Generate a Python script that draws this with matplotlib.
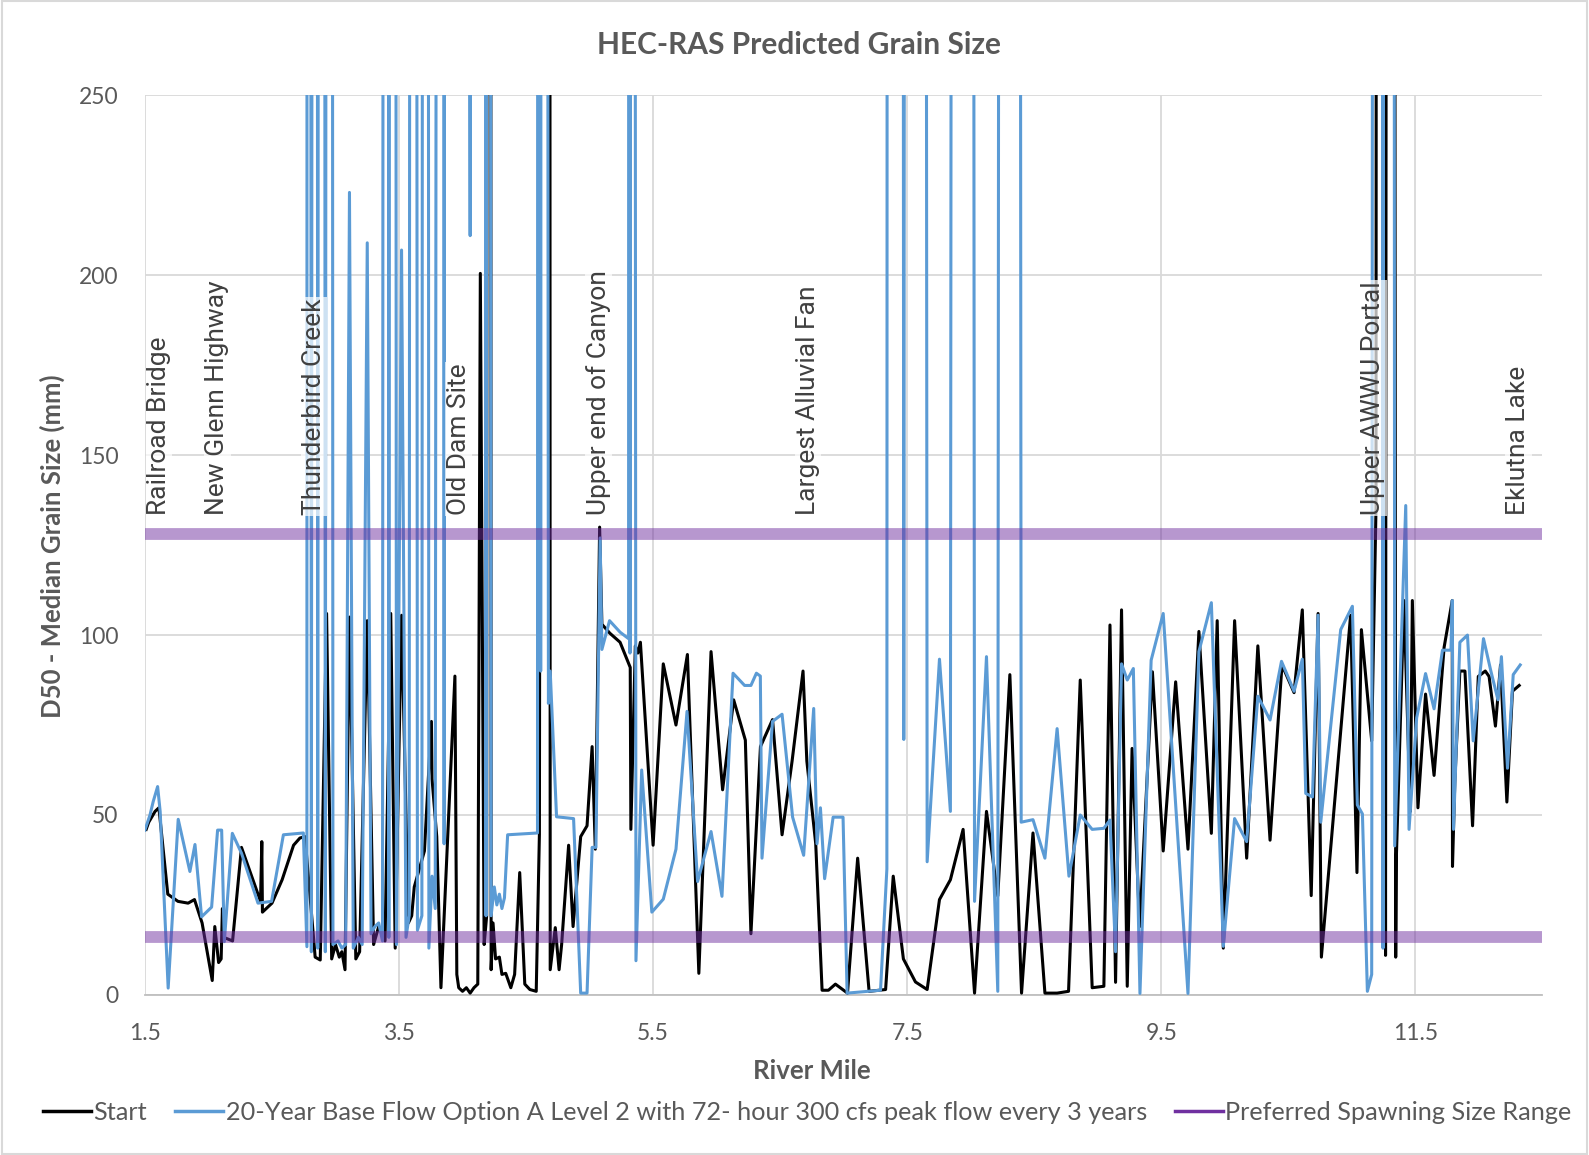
import matplotlib
matplotlib.use('Agg')
import matplotlib.pyplot as plt
from matplotlib.lines import Line2D
from matplotlib.patches import Rectangle

# River mile / D50 (mm); values above 250 run off the top of the axis
start_x = [1.51, 1.53, 1.58, 1.61, 1.68, 1.76, 1.84, 1.89, 1.95, 2.03, 2.05, 2.08, 2.10, 2.11, 2.12,
           2.19, 2.26, 2.41, 2.42, 2.425, 2.50, 2.58, 2.67, 2.72, 2.76, 2.84, 2.88, 2.93, 2.97, 3.00,
           3.03, 3.05, 3.075, 3.11, 3.16, 3.19, 3.25, 3.30, 3.34, 3.39, 3.435, 3.47, 3.52, 3.574, 3.60,
           3.62, 3.70, 3.755, 3.76, 3.797, 3.83, 3.94, 3.955, 3.97, 4.00, 4.03, 4.06, 4.09, 4.12,
           4.14, 4.17, 4.19, 4.21, 4.225, 4.24, 4.26, 4.29, 4.31, 4.34, 4.38, 4.41, 4.45, 4.49, 4.53,
           4.58, 4.605, 4.676, 4.69, 4.73, 4.76, 4.78, 4.835, 4.87, 4.93, 4.98, 5.02, 5.045, 5.079,
           5.097, 5.16, 5.24, 5.32, 5.325, 5.36, 5.38, 5.40, 5.50, 5.58, 5.68, 5.77, 5.86, 5.956,
           6.047, 6.134, 6.226, 6.27, 6.345, 6.44, 6.515, 6.594, 6.68, 6.71, 6.78, 6.83, 6.88, 6.935,
           7.03, 7.11, 7.20, 7.33, 7.39, 7.47, 7.565, 7.657, 7.754, 7.84, 7.94, 8.03, 8.124, 8.213,
           8.308, 8.40, 8.49, 8.584, 8.68, 8.77, 8.862, 8.956, 9.048, 9.096, 9.14, 9.187, 9.232, 9.27,
           9.33, 9.43, 9.515, 9.613, 9.71, 9.796, 9.894, 9.94, 9.988, 10.077, 10.172, 10.26, 10.356,
           10.45, 10.545, 10.61, 10.68, 10.734, 10.76, 10.99, 11.04, 11.075, 11.156, 11.19, 11.21,
           11.265, 11.30, 11.345, 11.35, 11.41, 11.46, 11.476, 11.52, 11.58, 11.647, 11.726, 11.79,
           11.792, 11.81, 11.85, 11.89, 11.95, 11.995, 12.05, 12.08, 12.13, 12.17, 12.22, 12.264, 12.317]
start_y = [46, 48, 51, 52, 28, 26, 25.5, 26.5, 20, 4, 19, 9, 10, 24, 16,
           15, 41, 26, 42.6, 23, 25.5, 32, 41.6, 43.6, 44, 10.5, 9.7, 106, 10, 14,
           10.5, 12, 7, 105, 10, 12, 104, 14, 19, 15, 106, 13, 105.5, 20, 22,
           30, 40, 76, 60, 44, 2, 88.6, 5.7, 2, 1, 2, 0.5, 2, 3,
           200.5, 14, 22, 2000, 7, 20, 10, 10.5, 5.7, 6, 2, 5.7, 34, 3, 1.5,
           1, 44.6, 2000, 7, 18.7, 7, 14, 41.6, 19, 44, 47, 69, 40.5, 130,
           103, 100.5, 98, 91, 46, 97, 95, 98, 41.6, 92, 75, 94.6, 6, 95.4,
           57, 82, 70.8, 17, 69, 76.5, 44.5, 65, 90, 65, 42, 1.3, 1.3, 3,
           0.5, 38, 1, 1.5, 33, 10, 3.6, 1.5, 26.5, 32, 46, 0.5, 51, 27.5,
           89, 0.5, 45, 0.5, 0.5, 1, 87.5, 2, 2.4, 102.8, 3.5, 107, 2.4, 68.5,
           19, 89.8, 40, 87, 40.5, 101, 44.9, 104, 13, 104, 38, 97, 43,
           91.7, 84, 107, 27.6, 106, 10.5, 105.5, 34, 101.5, 70.6, 135.5, 2000,
           11, 2000, 10.5, 38, 109.6, 51, 109.6, 52, 83.6, 61, 96.6, 109.6,
           35.7, 59, 90, 90, 47, 88.5, 90, 88.5, 74.7, 91.7, 53.6, 84.4, 86]

option_x = [1.50, 1.54, 1.565, 1.60, 1.62, 1.683, 1.762, 1.854, 1.894, 1.946, 2.025, 2.072, 2.104,
            2.125, 2.188, 2.26, 2.39, 2.497, 2.59, 2.747, 2.775, 2.78, 2.81, 2.845, 2.86, 2.89, 2.92,
            2.955, 2.98, 3.02, 3.05, 3.08, 3.11, 3.14, 3.18, 3.21, 3.25, 3.28, 3.31, 3.34, 3.37, 3.40,
            3.42, 3.45, 3.48, 3.52, 3.555, 3.58, 3.61, 3.645, 3.68, 3.71, 3.735, 3.76, 3.785, 3.84,
            3.855, 3.875, 3.89, 4.06, 4.17, 4.185, 4.20, 4.225, 4.25, 4.27, 4.29, 4.31, 4.33, 4.355,
            4.59, 4.60, 4.615, 4.63, 4.676, 4.69, 4.74, 4.874, 4.93, 4.98, 5.02, 5.05, 5.07, 5.083,
            5.097, 5.157, 5.24, 5.307, 5.312, 5.318, 5.324, 5.365, 5.41, 5.49, 5.58, 5.68, 5.767,
            5.85, 5.956, 6.042, 6.129, 6.22, 6.27, 6.313, 6.344, 6.357, 6.44, 6.515, 6.598, 6.685,
            6.764, 6.79, 6.817, 6.85, 6.917, 6.995, 7.027, 7.29, 7.34, 7.355, 7.44, 7.473, 7.513,
            7.61, 7.657, 7.754, 7.84, 7.888, 7.985, 8.03, 8.124, 8.213, 8.26, 8.353, 8.397, 8.49,
            8.584, 8.68, 8.773, 8.862, 8.956, 9.048, 9.096, 9.14, 9.187, 9.232, 9.28, 9.332, 9.42,
            9.515, 9.71, 9.796, 9.894, 9.988, 10.077, 10.172, 10.26, 10.356, 10.446, 10.545, 10.61,
            10.637, 10.69, 10.734, 10.755, 10.912, 11.004, 11.043, 11.083, 11.122, 11.156, 11.20,
            11.235, 11.245, 11.255, 11.31, 11.337, 11.424, 11.45, 11.51, 11.58, 11.647, 11.713,
            11.78, 11.79, 11.80, 11.85, 11.91, 11.955, 12.036, 12.094, 12.15, 12.177, 12.225,
            12.27, 12.325]
option_y = [45.8, 50, 53.7, 57.9, 51, 1.9, 48.8, 34.3, 41.8, 21.7, 24.4, 45.8, 45.8,
            14.8, 44.9, 39.4, 25.5, 26, 44.5, 45, 13.4, 2000, 12, 2000, 13, 2000, 12,
            2000, 14, 15, 13, 14, 223, 13, 16, 14, 209, 17, 19, 20, 15, 2000,
            16, 2000, 14, 207, 16, 22, 2000, 18, 22, 2000, 13, 33, 24, 2000,
            42, 2000, 2000, 211, 2000, 22, 2000, 22, 30, 25, 28, 24, 27, 44.5,
            45, 2000, 90, 2000, 81, 90, 49.5, 49, 0.5, 0.5, 41, 41, 94, 127,
            96, 104, 100.8, 99, 2000, 95, 2000, 9.5, 62.5, 23, 26.6, 40.5, 78.8,
            31.5, 45.4, 27.4, 89.4, 86, 86, 89.4, 88.6, 38, 76, 78, 49.4, 38.8,
            79.6, 42, 52, 32.3, 49.4, 49.4, 0.5, 1.3, 35, 2000, 2000, 71, 2000,
            2000, 37, 93.3, 51, 2000, 2000, 26, 94, 1, 2000, 2000, 48, 48.7,
            38, 74, 33, 50, 46, 46.3, 48.6, 12, 92, 87.5, 90.7, 0.4, 93,
            106, 0.4, 95.4, 109, 13.5, 49, 42.6, 83, 76.4, 92.7, 84.4, 93.3,
            56, 55, 105.5, 48, 101.5, 108, 52.8, 50.3, 1, 5.7, 2000,
            2000, 13, 2000, 2000, 41.4, 136, 46, 77, 89.3, 79.5, 95.8,
            95.8, 109.6, 46, 98, 100, 70.6, 99, 90, 82, 94, 63,
            89, 91.7]

spawn_min = 16
spawn_max = 128
range_x = [1.5, 12.5]

site_names = ['Railroad Bridge', 'New Glenn Highway', 'Thunderbird Creek', 'Old Dam Site',
              'Upper end of Canyon', 'Largest Alluvial Fan', 'Upper AWWU Portal', 'Eklutna Lake']
site_miles = [1.61, 2.07, 2.83, 3.97, 5.07, 6.72, 11.17, 12.31]

blue = '#5B9BD5'
purple = '#7030A0'
gray = '#595959'

fig = plt.figure(figsize=(15.89, 11.55), dpi=100)
ax = fig.add_axes([0.0912, 0.1386, 0.8795, 0.7789])

ax.plot(start_x, start_y, color='black', lw=2.2, zorder=3)
ax.plot(option_x, option_y, color=blue, lw=2.2, zorder=4)
for v in (spawn_min, spawn_max):
    ax.plot(range_x, [v, v], color=purple, lw=8.5, alpha=0.5, zorder=5, solid_capstyle='butt')

for name, m in zip(site_names, site_miles):
    ax.text(m, 133.5, name, rotation=90, ha='center', va='bottom', fontsize=19,
            family='Roboto', color='#404040', zorder=6,
            bbox=dict(boxstyle='square,pad=0.05', fc='white', ec='none', alpha=0.7))

ax.set_xlim(1.5, 12.5)
ax.set_ylim(0, 250)
ax.set_xticks([1.5, 3.5, 5.5, 7.5, 9.5, 11.5])
ax.set_yticks([0, 50, 100, 150, 200, 250])
ax.grid(True, color='#D9D9D9', lw=1.3, zorder=0)
ax.set_axisbelow(True)
for s in ['top', 'right', 'left']:
    ax.spines[s].set_visible(False)
ax.spines['bottom'].set_color('#BFBFBF')
ax.spines['bottom'].set_linewidth(1.3)
ax.tick_params(axis='y', length=0, labelsize=16.5, labelcolor=gray, pad=19)
ax.tick_params(axis='x', length=0, labelsize=16.5, labelcolor=gray, pad=20)
for lab in ax.get_xticklabels() + ax.get_yticklabels():
    lab.set_family('Lato')

fig.text(0.503, 0.961, 'HEC-RAS Predicted Grain Size', ha='center', va='center',
         fontsize=21.5, fontweight='bold', color=gray, family='Lato')
fig.text(0.511, 0.0728, 'River Mile', ha='center', va='center',
         fontsize=18.5, fontweight='bold', color=gray, family='Lato')
fig.text(0.0332, 0.527, 'D50 - Median Grain Size (mm)', ha='center', va='center', rotation=90,
         fontsize=18.5, fontweight='bold', color=gray, family='Lato')

handles = [Line2D([], [], color='black', lw=2.5),
           Line2D([], [], color=blue, lw=2.5),
           Line2D([], [], color=purple, lw=2.5)]
labels = ['Start',
          '20-Year Base Flow Option A Level 2 with 72- hour 300 cfs peak flow every 3 years',
          'Preferred Spawning Size Range']
fig.legend(handles, labels, loc='center', bbox_to_anchor=(0.508, 0.0368), ncol=3, frameon=False,
           handlelength=1.9, handletextpad=0.1, columnspacing=1.1,
           prop={'family': 'Lato', 'size': 18.2}, labelcolor=gray)

fig.patches.append(Rectangle((0.001, 0.001), 0.998, 0.998, transform=fig.transFigure,
                             fill=False, edgecolor='#D9D9D9', lw=1.5))

fig.savefig('out.png', dpi=100)
